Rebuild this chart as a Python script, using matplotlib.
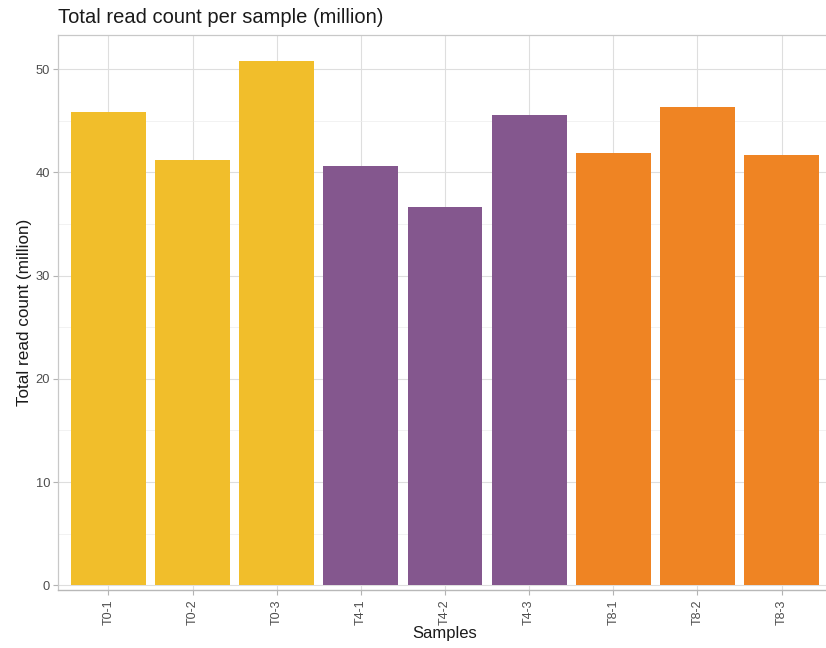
import matplotlib
matplotlib.use("Agg")
import matplotlib.pyplot as plt
from matplotlib.ticker import MultipleLocator

samples = ["T0-1", "T0-2", "T0-3", "T4-1", "T4-2", "T4-3", "T8-1", "T8-2", "T8-3"]
read_counts = [45.85, 41.2, 50.8, 40.6, 36.6, 45.6, 41.9, 46.35, 41.7]
groups = ["T0", "T0", "T0", "T4", "T4", "T4", "T8", "T8", "T8"]
group_colors = {"T0": "#F1BE2B", "T4": "#84578E", "T8": "#EF8423"}

plt.rcParams["font.family"] = ["Liberation Sans", "DejaVu Sans"]

W, H = 826, 648
fig = plt.figure(figsize=(W / 100, H / 100), dpi=100)
left, right, top, bottom = 58, 832, 35, 590
ax = fig.add_axes([left / W, 1 - bottom / H, (right - left) / W, (bottom - top) / H])

x = list(range(1, len(samples) + 1))
ax.bar(x, read_counts, width=0.89, color=[group_colors[g] for g in groups], zorder=3)

ax.set_xlim(0.4, len(samples) + 0.6)
ax.set_ylim(-0.45, 53.3)
ax.set_xticks(x)
ax.set_xticklabels(samples, rotation=90, fontsize=9, color="#4D4D4D")
ax.yaxis.set_major_locator(MultipleLocator(10))
ax.yaxis.set_minor_locator(MultipleLocator(5))
ax.tick_params(axis="y", labelsize=9.3, labelcolor="#4D4D4D", color="#B3B3B3",
               length=3.6, width=0.8, pad=2)
ax.tick_params(axis="x", color="#B3B3B3", length=3.6, width=0.8, pad=3)
ax.tick_params(axis="y", which="minor", length=0)

ax.grid(True, which="major", color="#DEDEDE", linewidth=0.8, zorder=0)
ax.grid(True, which="minor", axis="y", color="#EDEDED", linewidth=0.5, zorder=0)
ax.set_axisbelow(True)
for side in ["left", "top", "right"]:
    ax.spines[side].set_color("#C8C8C8")
    ax.spines[side].set_linewidth(0.9)
ax.spines["bottom"].set_color("#B8B8B8")
ax.spines["bottom"].set_linewidth(1.0)

ax.set_xlabel("Samples", fontsize=12, color="#1A1A1A", labelpad=1)
ax.set_ylabel("Total read count (million)", fontsize=12.3, color="#1A1A1A")
ax.yaxis.set_label_coords((32 - left) / (right - left), 0.5)
fig.text(left / W, 1 - 23 / H, "Total read count per sample (million)",
         fontsize=14.5, color="#1A1A1A", ha="left", va="baseline")

fig.savefig("out.png", dpi=100)
